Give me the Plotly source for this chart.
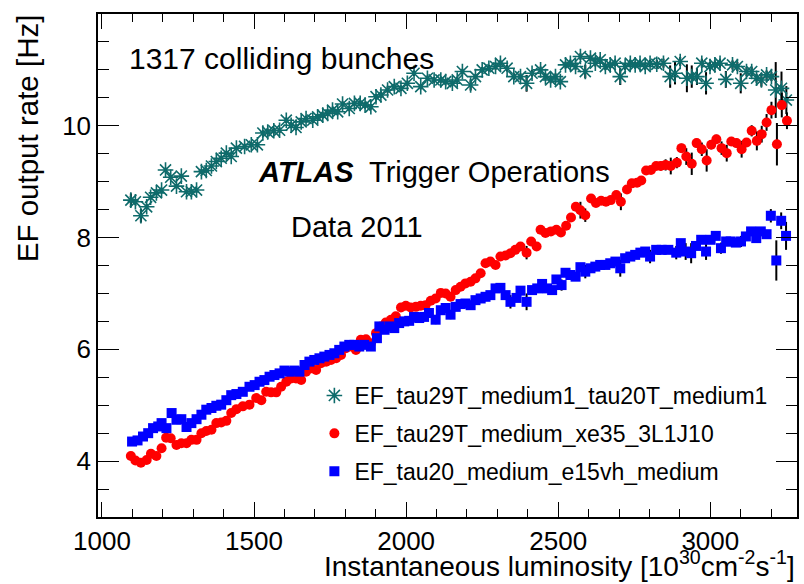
import plotly.graph_objects as go

# EF_tau29T_medium1_tau20T_medium1
lum_tautau = [1095, 1110, 1128, 1147, 1160, 1179, 1196, 1209, 1226, 1245, 1261, 1278, 1294, 1311, 1327, 1343, 1360, 1376, 1392, 1409, 1425, 1442,
              1469, 1491, 1511, 1529, 1545, 1565, 1584, 1606, 1622, 1638, 1655, 1671, 1693, 1709, 1726, 1742, 1758, 1775, 1791, 1813, 1830, 1849, 1865, 1884, 1901,
              1917, 1939, 1961, 1983, 2004, 2026, 2048, 2070, 2092, 2114, 2130, 2152, 2168, 2185, 2212, 2228, 2250, 2272, 2294, 2310, 2332, 2354,
              2376, 2396, 2414, 2442, 2458, 2475, 2491, 2507, 2524, 2540, 2557, 2573, 2589, 2606, 2622, 2638, 2655, 2671, 2687, 2704, 2720, 2737, 2753, 2769, 2786, 2802, 2824,
              2846, 2868, 2884, 2901, 2923, 2939, 2956, 2972, 2986, 2999, 3015, 3032, 3051, 3073, 3089, 3100, 3119, 3136, 3152, 3168, 3185, 3201, 3215, 3234, 3250]
rate_tautau = [8.67, 8.64, 8.39, 8.55, 8.72, 8.80, 8.85, 9.21, 9.08, 8.92, 9.10, 8.82, 8.82, 8.85, 9.18, 9.20, 9.28, 9.36, 9.42, 9.51, 9.45, 9.60,
               9.63, 9.66, 9.66, 9.87, 9.89, 9.91, 9.92, 10.10, 10.01, 9.97, 10.07, 10.13, 10.10, 10.16, 10.19, 10.22, 10.28, 10.25, 10.39, 10.31, 10.40, 10.40, 10.37, 10.34, 10.52,
               10.55, 10.64, 10.70, 10.67, 10.76, 10.94, 10.70, 10.85, 10.82, 10.82, 10.79, 10.76, 10.82, 10.97, 10.73, 10.88, 11.00, 11.03, 11.06, 11.12, 11.03, 10.88,
               10.88, 10.76, 10.94, 11.00, 10.88, 10.82, 10.88, 10.79, 11.09, 11.12, 11.06, 11.24, 10.97, 11.21, 11.12, 11.18, 11.06, 11.09, 11.12, 10.88, 11.06, 11.12, 11.09, 11.12, 11.06, 11.12, 11.10,
               11.12, 10.88, 10.94, 11.15, 10.85, 10.88, 10.88, 11.12, 10.76, 11.06, 11.09, 11.12, 10.83, 11.09, 11.06, 10.76, 10.97, 10.97, 10.85, 10.82, 10.91, 10.88, 10.64, 10.67, 10.46]
err_tautau = [0.12, 0.05, 0.12, 0.05, 0.04, 0.04, 0.04, 0.04, 0.04, 0.04, 0.04, 0.04, 0.04, 0.04, 0.04, 0.04, 0.04, 0.04, 0.04, 0.04, 0.04, 0.04,
              0.05, 0.05, 0.05, 0.05, 0.05, 0.05, 0.05, 0.05, 0.05, 0.05, 0.05, 0.05, 0.05, 0.05, 0.05, 0.05, 0.05, 0.05, 0.05, 0.05, 0.05, 0.05, 0.05, 0.05, 0.05,
              0.05, 0.05, 0.05, 0.05, 0.05, 0.05, 0.05, 0.05, 0.05, 0.05, 0.05, 0.05, 0.05, 0.05, 0.10, 0.05, 0.05, 0.06, 0.06, 0.06, 0.06, 0.06,
              0.06, 0.15, 0.06, 0.06, 0.06, 0.06, 0.06, 0.06, 0.06, 0.06, 0.06, 0.06, 0.12, 0.06, 0.06, 0.06, 0.06, 0.06, 0.06, 0.15, 0.06, 0.06, 0.06, 0.06, 0.06, 0.06, 0.08,
              0.08, 0.20, 0.20, 0.08, 0.25, 0.20, 0.15, 0.08, 0.20, 0.08, 0.08, 0.08, 0.15, 0.08, 0.08, 0.18, 0.08, 0.08, 0.08, 0.12, 0.08, 0.08, 0.50, 0.30, 0.25]

# EF_tau29T_medium_xe35_3L1J10
lum_xe = [1095, 1110, 1128, 1147, 1161, 1179, 1196, 1211, 1226, 1245, 1261, 1278, 1294, 1311, 1327, 1343, 1360, 1376, 1392, 1409, 1425, 1442,
          1463, 1485, 1507, 1524, 1540, 1556, 1573, 1589, 1606, 1622, 1638, 1655, 1671, 1688, 1704, 1720, 1737, 1753, 1770, 1786, 1802, 1819, 1835, 1851, 1868, 1884, 1901,
          1917, 1933, 1950, 1966, 1983, 1999, 2015, 2032, 2048, 2064, 2081, 2097, 2114, 2130, 2146, 2163, 2179, 2195, 2212, 2228, 2245, 2261, 2277, 2294, 2310, 2327, 2343, 2359,
          2376, 2396, 2411, 2429, 2442, 2458, 2476, 2494, 2509, 2526, 2542, 2558, 2573, 2589, 2608, 2624, 2641, 2657, 2673, 2691, 2706, 2726, 2742, 2759, 2773, 2789, 2805, 2822,
          2837, 2853, 2870, 2890, 2905, 2921, 2939, 2955, 2972, 2988, 3003, 3020, 3037, 3054, 3069, 3086, 3103, 3119, 3136, 3153, 3169, 3185, 3201, 3219, 3235, 3252]
rate_xe = [4.09, 4.01, 3.97, 4.02, 4.13, 4.09, 4.23, 4.42, 4.41, 4.29, 4.32, 4.32, 4.38, 4.38, 4.50, 4.54, 4.56, 4.68, 4.69, 4.72, 4.86, 4.93,
           4.98, 5.01, 5.13, 5.09, 5.24, 5.23, 5.23, 5.33, 5.42, 5.48, 5.48, 5.45, 5.60, 5.66, 5.63, 5.75, 5.78, 5.81, 5.84, 5.90, 6.02, 6.05, 5.99, 6.17, 6.18, 6.11, 6.29,
           6.41, 6.48, 6.53, 6.59, 6.75, 6.78, 6.75, 6.76, 6.78, 6.79, 6.87, 6.91, 7.01, 7.00, 6.94, 7.06, 7.12, 7.18, 7.21, 7.27, 7.36, 7.54, 7.57, 7.51, 7.66, 7.68, 7.72, 7.78,
           7.84, 7.73, 7.93, 7.84, 8.14, 8.08, 8.11, 8.14, 8.09, 8.21, 8.36, 8.55, 8.49, 8.40, 8.70, 8.62, 8.66, 8.64, 8.67, 8.76, 8.64, 8.86, 8.97, 8.98, 9.02, 9.20, 9.21, 9.28,
           9.28, 9.30, 9.28, 9.34, 9.60, 9.45, 9.32, 9.69, 9.58, 9.38, 9.66, 9.76, 9.60, 9.51, 9.72, 9.69, 9.58, 9.70, 9.91, 9.73, 9.85, 10.06, 10.28, 9.67, 10.37, 10.09]
err_xe = [0.03, 0.03, 0.03, 0.03, 0.03, 0.03, 0.03, 0.03, 0.03, 0.03, 0.03, 0.03, 0.03, 0.03, 0.03, 0.03, 0.03, 0.03, 0.03, 0.03, 0.03, 0.03,
          0.03, 0.03, 0.03, 0.03, 0.03, 0.03, 0.03, 0.03, 0.03, 0.03, 0.03, 0.03, 0.03, 0.03, 0.03, 0.03, 0.03, 0.03, 0.03, 0.03, 0.03, 0.03, 0.03, 0.03, 0.03, 0.03, 0.03,
          0.04, 0.04, 0.04, 0.04, 0.04, 0.04, 0.04, 0.04, 0.04, 0.04, 0.04, 0.04, 0.04, 0.04, 0.04, 0.04, 0.04, 0.04, 0.04, 0.04, 0.04, 0.04, 0.04, 0.04, 0.04, 0.04, 0.04, 0.04,
          0.05, 0.12, 0.05, 0.05, 0.05, 0.05, 0.05, 0.05, 0.06, 0.06, 0.06, 0.06, 0.15, 0.12, 0.06, 0.06, 0.06, 0.06, 0.06, 0.06, 0.15, 0.06, 0.06, 0.06, 0.06, 0.06, 0.06, 0.06,
          0.08, 0.10, 0.15, 0.10, 0.08, 0.15, 0.20, 0.08, 0.12, 0.20, 0.08, 0.08, 0.12, 0.15, 0.08, 0.08, 0.15, 0.08, 0.10, 0.17, 0.15, 0.15, 0.15, 0.38, 0.22, 0.15]

# EF_tau20_medium_e15vh_medium
lum_e15 = [1099, 1117, 1135, 1152, 1168, 1185, 1196, 1212, 1229, 1245, 1261, 1278, 1294, 1311, 1327, 1343, 1360, 1376, 1392, 1409, 1425, 1442,
           1463, 1485, 1502, 1518, 1534, 1551, 1567, 1584, 1600, 1616, 1633, 1649, 1666, 1682, 1698, 1715, 1731, 1748, 1764, 1780, 1797, 1813, 1830, 1846, 1862, 1884, 1904,
           1912, 1929, 1945, 1961, 1977, 1994, 2010, 2026, 2043, 2059, 2075, 2097, 2114, 2130, 2146, 2163, 2179, 2195, 2212, 2228, 2245, 2261, 2277, 2294, 2310, 2327, 2343, 2363,
           2376, 2396, 2414, 2431, 2447, 2463, 2480, 2494, 2511, 2524, 2540, 2557, 2573, 2589, 2606, 2622, 2638, 2655, 2671, 2688, 2704, 2720, 2737, 2753, 2770, 2786, 2802, 2822,
           2840, 2862, 2888, 2903, 2919, 2937, 2953, 2970, 2986, 3001, 3018, 3035, 3052, 3067, 3084, 3101, 3117, 3134, 3151, 3166, 3185, 3199, 3217, 3233, 3249]
rate_e15 = [4.35, 4.37, 4.44, 4.50, 4.59, 4.62, 4.68, 4.59, 4.86, 4.74, 4.75, 4.61, 4.68, 4.75, 4.83, 4.92, 4.95, 4.99, 5.01, 5.09, 5.18, 5.20,
            5.24, 5.33, 5.36, 5.42, 5.45, 5.51, 5.54, 5.57, 5.62, 5.60, 5.62, 5.60, 5.72, 5.78, 5.81, 5.84, 5.87, 5.90, 5.93, 5.99, 6.05, 6.08, 6.08, 6.05, 6.08, 6.05, 6.20,
            6.41, 6.35, 6.41, 6.38, 6.47, 6.50, 6.51, 6.58, 6.56, 6.58, 6.65, 6.53, 6.70, 6.74, 6.62, 6.76, 6.81, 6.82, 6.79, 6.88, 6.91, 6.94, 6.97, 7.09, 7.10, 6.97, 6.85, 6.92,
            7.05, 6.85, 7.06, 7.09, 7.17, 7.09, 7.06, 7.25, 7.15, 7.37, 7.33, 7.30, 7.47, 7.39, 7.45, 7.48, 7.51, 7.51, 7.54, 7.57, 7.45, 7.63, 7.66, 7.69, 7.73, 7.75, 7.66, 7.78,
            7.78, 7.78, 7.73, 7.90, 7.75, 7.72, 7.85, 7.96, 7.75, 7.96, 8.03, 7.81, 7.93, 7.93, 7.91, 7.93, 8.02, 8.11, 7.99, 8.11, 8.06, 8.39, 7.59, 8.30, 8.03]
err_e15 = [0.03, 0.03, 0.03, 0.03, 0.03, 0.03, 0.03, 0.03, 0.03, 0.03, 0.03, 0.03, 0.03, 0.03, 0.03, 0.03, 0.03, 0.03, 0.03, 0.03, 0.03, 0.03,
           0.03, 0.03, 0.03, 0.03, 0.03, 0.03, 0.03, 0.03, 0.03, 0.03, 0.03, 0.03, 0.03, 0.03, 0.03, 0.03, 0.03, 0.03, 0.03, 0.03, 0.03, 0.03, 0.03, 0.03, 0.03, 0.03, 0.03,
           0.04, 0.04, 0.04, 0.04, 0.04, 0.04, 0.04, 0.04, 0.04, 0.04, 0.04, 0.08, 0.04, 0.04, 0.08, 0.04, 0.04, 0.04, 0.04, 0.04, 0.04, 0.04, 0.04, 0.04, 0.04, 0.04, 0.12, 0.05,
           0.05, 0.15, 0.05, 0.05, 0.05, 0.05, 0.05, 0.05, 0.10, 0.05, 0.05, 0.05, 0.05, 0.12, 0.05, 0.05, 0.05, 0.05, 0.05, 0.05, 0.15, 0.05, 0.05, 0.05, 0.05, 0.05, 0.12, 0.07,
           0.07, 0.07, 0.12, 0.07, 0.15, 0.18, 0.07, 0.07, 0.15, 0.07, 0.07, 0.10, 0.07, 0.07, 0.07, 0.10, 0.07, 0.07, 0.07, 0.07, 0.07, 0.12, 0.36, 0.15, 0.25]

series_names = ["EF_tau29T_medium1_tau20T_medium1",
                "EF_tau29T_medium_xe35_3L1J10",
                "EF_tau20_medium_e15vh_medium"]

FONT = "Liberation Sans, Arial, Helvetica, sans-serif"
TEAL = "#0e6b6b"

fig = go.Figure()


def add_series(lum, rate, err, name, marker):
    fig.add_trace(go.Scatter(
        x=lum, y=rate, name=name, mode="markers", marker=marker,
        legendgroup=name,
        error_y=dict(type="data", array=err, color="black", thickness=2, width=0),
    ))


add_series(lum_tautau, rate_tautau, err_tautau, series_names[0],
           dict(symbol="asterisk-open", size=13, color=TEAL, line=dict(color=TEAL, width=1.6)))
add_series(lum_xe, rate_xe, err_xe, series_names[1],
           dict(symbol="circle", size=10, color="#ff0000", line=dict(width=0)))
add_series(lum_e15, rate_e15, err_e15, series_names[2],
           dict(symbol="square", size=10, color="#0000ff", line=dict(width=0)))

axis_common = dict(
    showgrid=False, zeroline=False, showline=True, linecolor="black", linewidth=1.5,
    mirror="allticks", ticks="inside", tickcolor="black", tickwidth=1.2,
    tickfont=dict(family=FONT, size=26, color="black"),
)

fig.update_xaxes(range=[987, 3285], tick0=1000, dtick=500, ticklen=15,
                 minor=dict(dtick=100, ticklen=8, ticks="inside", tickcolor="black", tickwidth=1.2),
                 **axis_common)
fig.update_yaxes(range=[3, 12], tick0=0, dtick=2, ticklen=21,
                 minor=dict(dtick=0.5, ticklen=11, ticks="inside", tickcolor="black", tickwidth=1.2),
                 **axis_common)


def px_x(p):
    return (p - 98) / 701.0


def px_y(p):
    return (517 - p) / 503.0


annotations = [
    dict(text="1317 colliding bunches", x=px_x(127), y=px_y(58), xanchor="left", yanchor="middle",
         font=dict(size=30)),
    dict(text="<b><i>ATLAS</i></b>", x=px_x(256), y=px_y(172), xanchor="left", yanchor="middle",
         font=dict(size=29)),
    dict(text="Trigger Operations", x=px_x(368), y=px_y(172), xanchor="left", yanchor="middle",
         font=dict(size=29)),
    dict(text="Data 2011", x=px_x(290), y=px_y(227), xanchor="left", yanchor="middle",
         font=dict(size=29)),
    dict(text="EF output rate [Hz]", x=px_x(28), y=px_y(12), xanchor="center", yanchor="top",
         textangle=-90, font=dict(size=29.5)),
    dict(text="Instantaneous luminosity [10<sup>30</sup>cm<sup>-2</sup>s<sup>-1</sup>]",
         x=1.0, y=px_y(584), xanchor="right", yanchor="bottom", font=dict(size=28)),
]
for a in annotations:
    a.update(xref="paper", yref="paper", showarrow=False)
    a["font"].update(family=FONT, color="black")

fig.update_layout(
    width=804, height=584,
    margin=dict(l=98, r=5, t=14, b=67),
    plot_bgcolor="white", paper_bgcolor="white",
    font=dict(family=FONT, color="black"),
    annotations=annotations,
    showlegend=True,
    legend=dict(x=px_x(315), y=px_y(374), xanchor="left", yanchor="top",
                bgcolor="rgba(0,0,0,0)", borderwidth=0, tracegroupgap=5,
                font=dict(family=FONT, size=23, color="black")),
)

fig.write_html("out.html")
